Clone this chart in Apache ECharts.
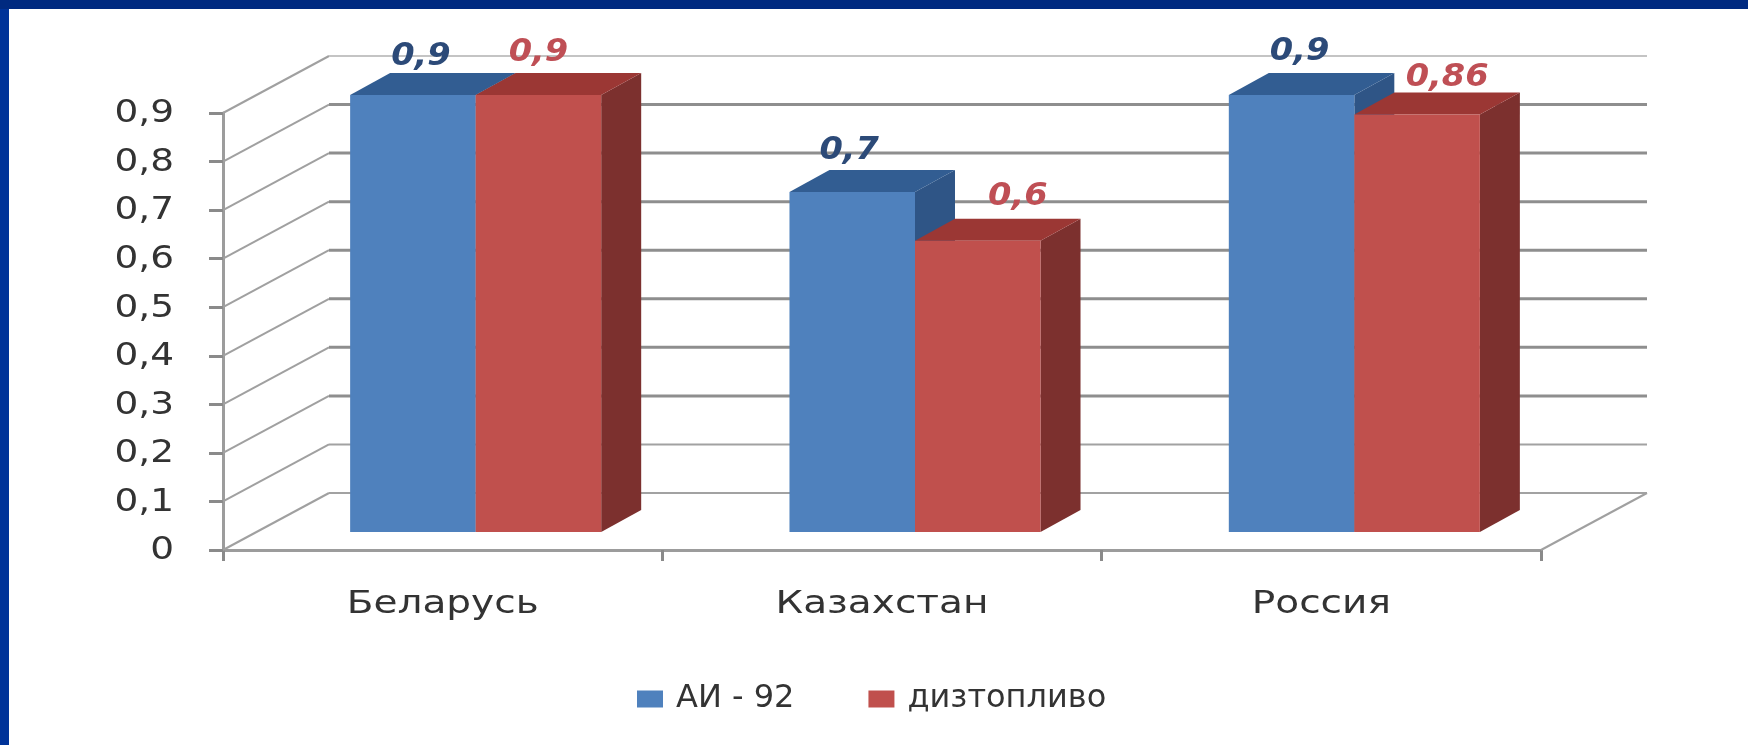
<!DOCTYPE html>
<html><head><meta charset="utf-8">
<style>html,body{margin:0;padding:0;background:#fff}#c{width:1748px;height:745px}</style>
<script src="https://cdn.jsdelivr.net/npm/echarts@6/dist/echarts.min.js"></script>
</head><body><div id="c"></div>
<script>
const categories = ['Беларусь', 'Казахстан', 'Россия'];
const seriesNames = ['АИ - 92', 'дизтопливо'];
const petrol = [0.9, 0.7, 0.9];
const diesel = [0.9, 0.6, 0.86];
const yTicks = [0, 0.1, 0.2, 0.3, 0.4, 0.5, 0.6, 0.7, 0.8, 0.9];

const WALL = [106, -57], BASE = [33, -18], DEPTH = [40, -22];
const comma = v => String(v).replace('.', ',');
const labelNudge = [[[8,-38],[-3,-41],[8,-43]], [[0,-42],[40,-44],[30,-37]]];

// The reference is a horizontally stretched bitmap, so text is widened with scaleX.
function stretchedText(x, y, text, font, fill, sx, align) {
  return { type: 'text', x, y, scaleX: sx, scaleY: 1,
    style: { x: 0, y: 0, text, font, fill, textAlign: align, textVerticalAlign: 'middle' } };
}

function wallItem(params, api) {
  const g = params.coordSys, v = api.value(0), p = api.coord([0, v]);
  const x0 = g.x, x1 = g.x + g.width, y = p[1];
  const top = v === 0.9, low = v <= 0.1;
  const color = top ? '#c4c4c4' : (low ? '#a2a2a2' : '#8e8e8e');
  const children = [
    { type: 'line', shape: { x1: x0, y1: y, x2: x0 + WALL[0], y2: y + WALL[1] }, style: { stroke: '#a0a0a0', lineWidth: 2 } },
    { type: 'line', shape: { x1: x0 + WALL[0], y1: y + WALL[1], x2: x1 + WALL[0], y2: y + WALL[1] }, style: { stroke: color, lineWidth: low || top ? 2 : 3 } },
    stretchedText(174, y + 1, comma(v), '32px "DejaVu Sans"', '#333', 1.17, 'right')
  ];
  if (v === 0) children.push({ type: 'line', shape: { x1: x1, y1: y, x2: x1 + WALL[0], y2: y + WALL[1] }, style: { stroke: '#a0a0a0', lineWidth: 2 } });
  return { type: 'group', children };
}

function categoryItem(params, api) {
  const i = api.value(0), c = api.coord([i, 0]);
  return stretchedText(c[0], c[1] + 55, categories[i], '32px "DejaVu Sans"', '#333', 1.22, 'center');
}

function barRenderer(seriesIdx, front, topCol, sideCol, textCol) {
  return function (params, api) {
    const cat = api.value(0), val = api.value(1);
    const w = api.size([1, 0])[0] / 3.5;
    const c = api.coord([cat, val]), b = api.coord([cat, 0]);
    const xl = c[0] + BASE[0] + (seriesIdx - 1) * w, xr = xl + w;
    const yt = c[1] + BASE[1], yb = b[1] + BASE[1];
    const [dx, dy] = DEPTH;
    const n = labelNudge[seriesIdx][cat];
    return { type: 'group', children: [
      { type: 'polygon', shape: { points: [[xr, yt], [xr + dx, yt + dy], [xr + dx, yb + dy], [xr, yb]] }, style: { fill: sideCol } },
      { type: 'polygon', shape: { points: [[xl, yt], [xl + dx, yt + dy], [xr + dx, yt + dy], [xr, yt]] }, style: { fill: topCol } },
      { type: 'rect', shape: { x: xl, y: yt, width: w, height: yb - yt }, style: { fill: front } },
      stretchedText((xl + xr) / 2 + n[0], yt + n[1], comma(val), 'italic 600 32px "DejaVu Sans"', textCol, 1.05, 'center')
    ] };
  };
}

const chart = echarts.init(document.getElementById('c'), null, { renderer: 'canvas' });
chart.setOption({
  animation: false,
  backgroundColor: '#ffffff',
  graphic: [
    { type: 'rect', silent: true, z: 100, shape: { x: 0, y: 0, width: 9, height: 745 }, style: { fill: '#003399' } },
    { type: 'rect', silent: true, z: 101, shape: { x: 0, y: 0, width: 1748, height: 9 }, style: { fill: '#002a80' } }
  ],
  grid: { left: 223, top: 113, width: 1318, height: 437, containLabel: false },
  legend: {
    data: seriesNames, left: 637, top: 683, icon: 'rect', itemWidth: 26, itemHeight: 17, itemGap: 74, padding: 0,
    textStyle: { fontFamily: 'DejaVu Sans', fontSize: 32, color: '#333', padding: [4, 0, 0, 8] }
  },
  xAxis: {
    type: 'category', data: categories,
    axisLine: { lineStyle: { color: '#9c9c9c', width: 3 } },
    axisTick: { show: true, length: 11, lineStyle: { color: '#8a8a8a', width: 3 } },
    axisLabel: { show: false }
  },
  yAxis: {
    type: 'value', min: 0, max: 0.9, interval: 0.1,
    axisLine: { show: true, lineStyle: { color: '#9c9c9c', width: 3 } },
    axisTick: { show: true, length: 14, lineStyle: { color: '#8a8a8a', width: 3 } },
    splitLine: { show: false },
    axisLabel: { show: false }
  },
  series: [
    { type: 'custom', name: 'walls', coordinateSystem: 'cartesian2d', z: 1, silent: true, clip: false,
      encode: { y: 0 }, renderItem: wallItem, data: yTicks.map(v => [v]) },
    { type: 'custom', name: 'categoryLabels', coordinateSystem: 'cartesian2d', z: 1, silent: true, clip: false,
      encode: { x: 0 }, renderItem: categoryItem, data: categories.map((c, i) => [i]) },
    { type: 'custom', name: seriesNames[0], z: 2, silent: true, clip: false, itemStyle: { color: '#4f81bd' },
      encode: { x: 0, y: 1 }, renderItem: barRenderer(0, '#4f81bd', '#325d92', '#2f5586', '#2c4a78'),
      data: petrol.map((v, i) => [i, v]) },
    { type: 'custom', name: seriesNames[1], z: 3, silent: true, clip: false, itemStyle: { color: '#c0504d' },
      encode: { x: 0, y: 1 }, renderItem: barRenderer(1, '#c0504d', '#9b3734', '#7c302e', '#bf4f55'),
      data: diesel.map((v, i) => [i, v]) }
  ]
});
</script></body></html>
